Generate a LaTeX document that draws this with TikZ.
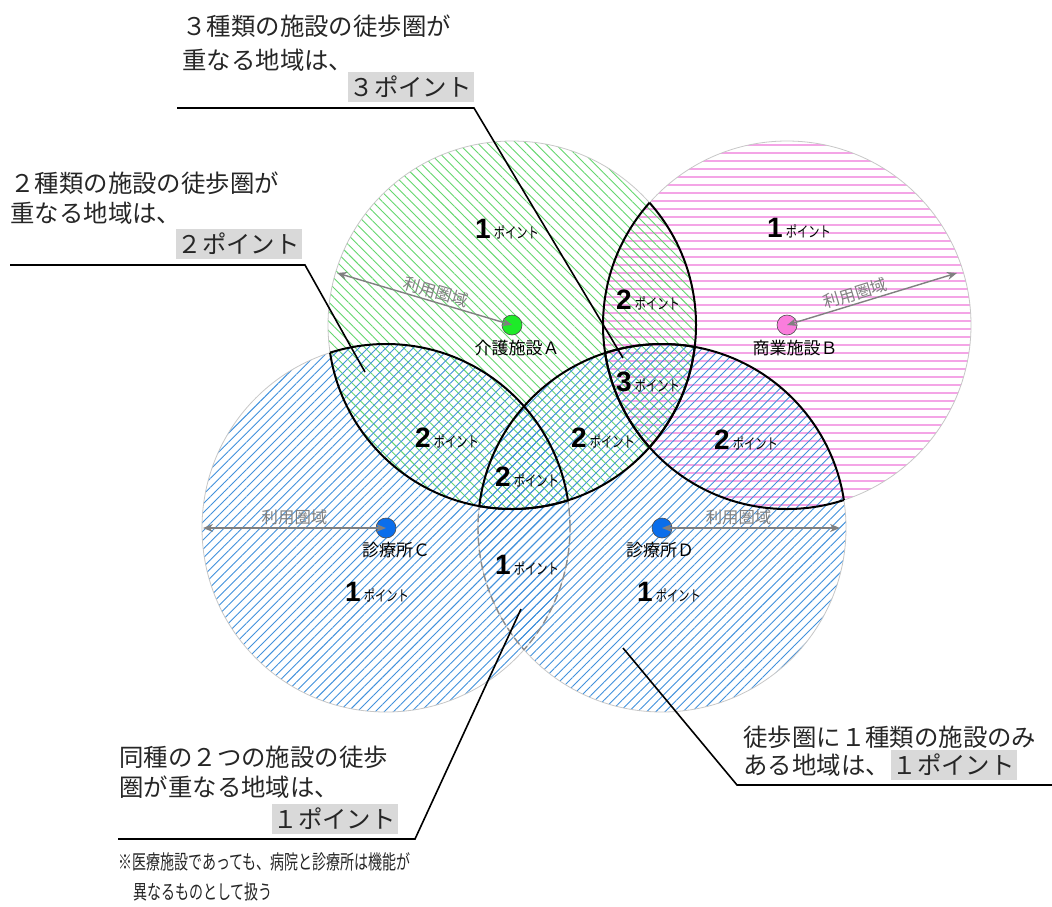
\documentclass[tikz,border=0pt]{standalone}
\usepackage{fontspec}
\setmainfont{Noto Sans CJK JP}
\newfontfamily\numfont{Liberation Sans}
\usetikzlibrary{positioning, arrows.meta, patterns.meta}
\definecolor{hatchgreen}{RGB}{100,215,110}
\definecolor{hatchpink}{RGB}{244,165,230}
\definecolor{hatchblue}{RGB}{65,145,220}
\definecolor{dotgreen}{RGB}{30,235,40}
\definecolor{dotpink}{RGB}{250,125,220}
\definecolor{dotblue}{RGB}{10,110,235}
\newcommand{\rr}{92pt}
\newcommand{\pnt}[1]{{\numfont\bfseries\fontsize{14}{14}\selectfont #1}\,\scalebox{0.75}[1]{\fontsize{7.5}{8}\selectfont ポイント}}
\tikzset{
    walkarea/.style={draw=black!22, line width=0.4pt},
    pinkline/.style={draw=hatchpink, line width=1pt},
    lens/.style={draw=black, line width=1pt},
    samelens/.style={draw=black!45, line width=0.7pt, dash pattern=on 4pt off 2pt},
    facdot/.style={circle, draw=black!70, line width=0.3pt, minimum size=10pt, inner sep=0pt},
    facility/.style={font=\fontsize{8.5}{9}\selectfont, inner sep=0pt},
    rangearrow/.style={draw=black!50, line width=0.7pt, arrows={Stealth[length=5pt,width=4pt]-Stealth[length=5pt,width=4pt]}},
    rangetext/.style={font=\fontsize{8.2}{9}\selectfont, text=black!50, inner sep=1pt},
    ptlabel/.style={inner sep=0pt},
    calltext/.style={font=\fontsize{12.2}{15}\selectfont, text=black!85, inner sep=0pt, anchor=west},
    ptbox/.style={calltext, fill=black!15, inner xsep=1pt, inner ysep=2pt},
    leader/.style={draw=black, line width=0.8pt},
    note/.style={font=\fontsize{10}{11}\selectfont, text=black!85, inner sep=0pt, anchor=west}
}

\begin{document}
\begin{tikzpicture}[x=0.5pt, y=-0.5pt]
\useasboundingbox[fill=white] (0,0) rectangle (1052,906);

% walking areas
\coordinate (ca) at (512,325);
\coordinate (cb) at (787,325);
\coordinate (cc) at (386,528);
\coordinate (cd) at (662,528);
\begin{scope}
    \clip (cb) circle[radius=\rr];
    \foreach \yy in {145,153,...,509}
        \draw[pinkline] (600,\yy) -- (975,\yy);
\end{scope}
\draw[walkarea] (cb) circle[radius=\rr];
\foreach \c/\ang/\dd/\col in {ca/-45/3.4pt/hatchgreen, cc/45/3.2pt/hatchblue, cd/45/3.2pt/hatchblue}
    \path[walkarea, pattern={Lines[angle=\ang, distance=\dd, line width=0.45pt]}, pattern color=\col] (\c) circle[radius=\rr];

% same kind overlap
\begin{scope} \clip (cc) circle[radius=\rr]; \draw[samelens] (cd) circle[radius=\rr]; \end{scope}
\begin{scope} \clip (cd) circle[radius=\rr]; \draw[samelens] (cc) circle[radius=\rr]; \end{scope}

% overlaps of different kinds
\foreach \p/\q in {ca/cb, ca/cc, ca/cd, cb/cd} {
    \begin{scope} \clip (\p) circle[radius=\rr]; \draw[lens] (\q) circle[radius=\rr]; \end{scope}
    \begin{scope} \clip (\q) circle[radius=\rr]; \draw[lens] (\p) circle[radius=\rr]; \end{scope}
}

% facilities
\node[facdot, fill=dotgreen] (a) at (ca) {};
\node[facdot, fill=dotpink]  (b) at (cb) {};
\node[facdot, fill=dotblue]  (c) at (cc) {};
\node[facdot, fill=dotblue]  (d) at (cd) {};
\node[facility, below=2pt of a, xshift=2.5pt] (la) {介護施設Ａ};
\node[facility, below=2pt of b, xshift=4pt]   (lb) {商業施設Ｂ};
\node[facility, below=2pt of c, xshift=5pt]   (lc) {診療所Ｃ};
\node[facility, below=2pt of d, xshift=-1pt]  (ld) {診療所Ｄ};

% service range
\coordinate (ea) at (337,273);
\coordinate (eb) at (957,273);
\coordinate (ec) at (203,528);
\coordinate (ed) at (840,528);
\draw[rangearrow] (ea) -- node[rangetext, above, sloped, pos=0.55] {利用圏域} (a.center);
\draw[rangearrow] (b.center) -- node[rangetext, above, sloped, pos=0.42] {利用圏域} (eb);
\draw[rangearrow] (ec) -- node[rangetext, above, pos=0.5] {利用圏域} (c.center);
\draw[rangearrow] (d.center) -- node[rangetext, above, pos=0.43] {利用圏域} (ed);

% points
\foreach \x/\y/\n [count=\i] in {507/229/1, 799/228/1, 648/300/2, 648/382/3, 447/438/2, 603/438/2,
        746/440/2, 527/477/2, 527/565/1, 377/592/1, 669/592/1}
    \node[ptlabel] (p\i) at (\x,\y) {\pnt{\n}};

% callouts
\node[calltext] (k3a) at (182,26) {３種類の施設の徒歩圏が};
\node[calltext] (k3b) at (182,60) {重なる地域は、};
\node[ptbox, anchor=east] (k3c) at (474,87) {３ポイント};
\coordinate (k3s) at (177,108);
\coordinate (k3m) at (474,108);
\coordinate (k3t) at (623,358);
\draw[leader] (k3s) -- (k3m) -- (k3t);

\node[calltext] (k2a) at (10,183) {２種類の施設の徒歩圏が};
\node[calltext] (k2b) at (10,213) {重なる地域は、};
\node[ptbox, anchor=east] (k2c) at (302,244) {２ポイント};
\coordinate (k2s) at (10,265);
\coordinate (k2m) at (305,265);
\coordinate (k2t) at (365,372);
\draw[leader] (k2s) -- (k2m) -- (k2t);

\node[calltext] (k1a) at (119,757) {同種の２つの施設の徒歩};
\node[calltext] (k1b) at (119,787) {圏が重なる地域は、};
\node[ptbox, anchor=east] (k1c) at (398,819) {１ポイント};
\coordinate (k1s) at (118,839);
\coordinate (k1m) at (415,839);
\coordinate (k1t) at (521,609);
\draw[leader] (k1s) -- (k1m) -- (k1t);

\node[calltext] (k0a) at (743,737) {徒歩圏に１種類の施設のみ};
\node[calltext] (k0b) at (743,765) {ある地域は、};
\node[ptbox, right=0pt of k0b] (k0c) {１ポイント};
\coordinate (k0s) at (623,648);
\coordinate (k0m) at (737,785);
\coordinate (k0e) at (1052,785);
\draw[leader] (k0s) -- (k0m) -- (k0e);

% note
\node[note] (n1) at (118,862) {\scalebox{0.7}[1]{※医療施設であっても、病院と診療所は機能が}};
\node[note] (n2) at (133,892) {\scalebox{0.7}[1]{異なるものとして扱う}};
\end{tikzpicture}
\end{document}
